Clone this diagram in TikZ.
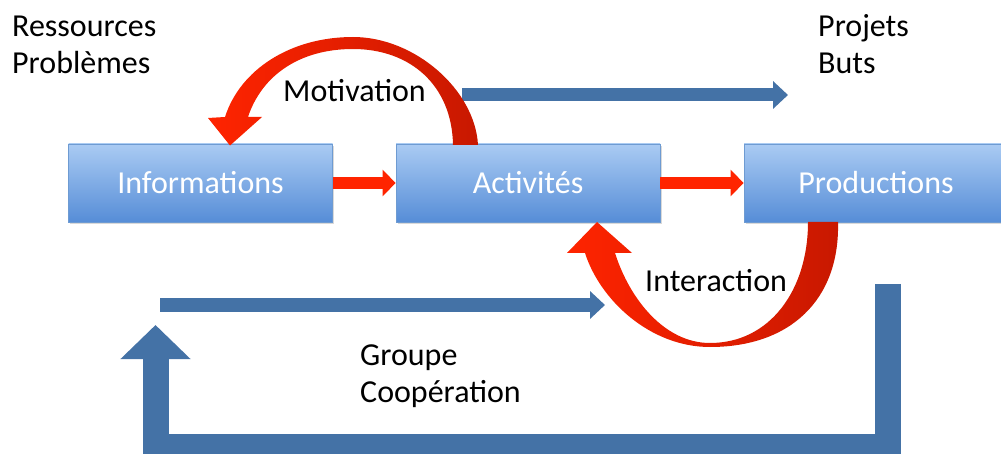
\documentclass[tikz,border=0pt]{standalone}
\usepackage{fontspec}
\setmainfont{Carlito}
\usetikzlibrary{arrows.meta,shadows}
\definecolor{boxtop}{RGB}{170,203,243}
\definecolor{boxbot}{RGB}{86,141,215}
\definecolor{boxline}{RGB}{110,155,210}
\definecolor{bluearr}{RGB}{68,114,166}
\definecolor{redbright}{RGB}{255,36,0}
\definecolor{reddark}{RGB}{200,24,0}
\begin{document}
\begin{tikzpicture}[x=1pt,y=-1pt,
  box/.style={rectangle, draw=boxline, line width=0.8pt, top color=boxtop, bottom color=boxbot,
    minimum width=264pt, minimum height=78pt, inner sep=0pt, text=white,
    font=\fontsize{32}{37}\selectfont,
    drop shadow={shadow xshift=1.5pt, shadow yshift=-2.5pt, opacity=0.3}},
  lbl/.style={anchor=base west, inner sep=0pt, font=\fontsize{32}{37}\selectfont},
  redarrow/.style={draw=redbright, line width=12pt, -{Triangle[length=13pt,width=26pt]}},
  bluearrow/.style={draw=bluearr, line width=13pt, -{Triangle[length=15pt,width=27pt]}},
  bigarrow/.style={draw=bluearr, line width=26pt, line join=miter, -{Triangle[length=34pt,width=68pt]}},
  redarc/.style={left color=redbright, right color=reddark},
]
\useasboundingbox (0,0) rectangle (1001,454);
\clip (0,0) rectangle (1001,454);

% boxes
\node[box] (info) at (200.5,183) {Informations};
\node[box] (act) at (528,183) {Activités};
\node[box] (prod) at (876,183) {Productions};

% blue arrows
\coordinate (b1s) at (462,95);
\coordinate (b1e) at (788,95);
\draw[bluearrow] (b1s) -- (b1e);
\coordinate (b2s) at (160,305);
\coordinate (b2e) at (605,305);
\draw[bluearrow] (b2s) -- (b2e);

% big loop arrow
\coordinate (l1) at (888,284);
\coordinate (l2) at (888,447);
\coordinate (l3) at (155.5,447);
\coordinate (l4) at (155.5,325);
\draw[bigarrow] (l1) -- (l2) -- (l3) -- (l4);

% Motivation arc
\shade[redarc] (478,145) .. controls (475,90) and (415,37) .. (353,37)
  .. controls (290,37) and (240,70) .. (225,117)
  -- (208,118) -- (230,145.5) -- (262,117) -- (248,117)
  .. controls (262,75) and (300,49) .. (353,49)
  .. controls (410,49) and (452,85) .. (453,145) -- cycle;

% Interaction arc
\shade[redarc] (838,222) .. controls (840,300) and (790,347) .. (710,347)
  .. controls (650,347) and (600,300) .. (585,253)
  -- (567,253) -- (597,222) -- (632,253) -- (615,253)
  .. controls (630,300) and (665,343) .. (710,343)
  .. controls (770,343) and (808,290) .. (808,222) -- cycle;

% red straight arrows
\draw[redarrow] (info.east) -- (act.west);
\draw[redarrow] (act.east) -- (prod.west);

% labels
\node[lbl] (res) at (12,37) {Ressources};
\node[lbl] (pb) at (12,74) {Problèmes};
\node[lbl] (proj) at (818,37) {Projets};
\node[lbl] (buts) at (818,74) {Buts};
\node[lbl] (motiv) at (283,102) {Motivation};
\node[lbl] (inter) at (645,292) {Interaction};
\node[lbl] (grp) at (360,365) {Groupe};
\node[lbl] (coop) at (360,402) {Coopération};
\end{tikzpicture}
\end{document}
